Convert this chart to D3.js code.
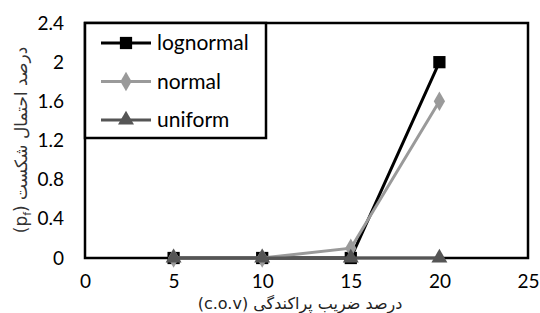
<!DOCTYPE html>
<html>
<head>
<meta charset="utf-8">
<script src="https://cdn.jsdelivr.net/npm/d3@7"></script>
<style>
  body { margin: 0; background: #fff; }
  svg text { font-family: Lato, "Open Sans", sans-serif; }
</style>
</head>
<body>
<div id="chart"></div>
<script>
// data
var cov = [5, 10, 15, 20]
var lognormal = [0, 0, 0, 2.0]
var normal = [0, 0, 0.1, 1.6]
var uniform = [0, 0, 0, 0]
var xTicks = [0, 5, 10, 15, 20, 25]
var yTicks = [0, 0.4, 0.8, 1.2, 1.6, 2, 2.4]
var seriesNames = ["lognormal", "normal", "uniform"]

var width = 540, height = 313
var margin = { top: 23, left: 85, right: 12, bottom: 55 }

var svg = d3.select("#chart")
    .append("svg")
    .attr("width", width)
    .attr("height", height)

var x = d3.scaleLinear().domain([0, 25]).range([margin.left, width - margin.right])
var y = d3.scaleLinear().domain([0, 2.4]).range([height - margin.bottom, margin.top])

// axes, labels only
var xAxis = svg.append("g")
    .attr("transform", "translate(0," + (height - margin.bottom) + ")")
    .call(d3.axisBottom(x).tickValues(xTicks).tickSize(0).tickPadding(17).tickFormat(d3.format("d")))
xAxis.select(".domain").remove()
xAxis.selectAll("text").attr("font-size", 19).attr("fill", "#000")
    .style("font-family", "Lato, sans-serif")

var yAxis = svg.append("g")
    .attr("transform", "translate(" + margin.left + ",0)")
    .call(d3.axisLeft(y).tickValues(yTicks).tickSize(0).tickPadding(21).tickFormat(function (d) { return String(d) }))
yAxis.select(".domain").remove()
yAxis.selectAll("text").attr("font-size", 19).attr("fill", "#000")
    .style("font-family", "Lato, sans-serif")

// plot border
svg.append("rect")
    .attr("x", x(0)).attr("y", y(2.4))
    .attr("width", x(25) - x(0)).attr("height", y(0) - y(2.4))
    .attr("fill", "none").attr("stroke", "#000").attr("stroke-width", 2.5)

var series = [
    { name: seriesNames[0], values: lognormal, color: "#000", symbol: d3.symbolSquare, size: 150 },
    { name: seriesNames[1], values: normal, color: "#9a9a9a", symbol: d3.symbolDiamond, size: 110 },
    { name: seriesNames[2], values: uniform, color: "#555", symbol: d3.symbolTriangle, size: 110 }
]

var line = d3.line()
    .x(function (d) { return x(d[0]) })
    .y(function (d) { return y(d[1]) })

series.forEach(function (s) {
    var pts = cov.map(function (c, i) { return [c, s.values[i]] })
    svg.append("path")
        .attr("d", line(pts))
        .attr("fill", "none")
        .attr("stroke", s.color)
        .attr("stroke-width", 3)
    svg.selectAll(".m-" + s.name)
        .data(pts)
        .enter().append("path")
        .attr("transform", function (d) { return "translate(" + x(d[0]) + "," + y(d[1]) + ")" })
        .attr("d", d3.symbol().type(s.symbol).size(s.size))
        .attr("fill", s.color)
})

// legend
var legend = svg.append("g")
legend.append("rect")
    .attr("x", x(0)).attr("y", y(2.4))
    .attr("width", 181).attr("height", 115)
    .attr("fill", "#fff").attr("stroke", "#000").attr("stroke-width", 2.5)

series.forEach(function (s, i) {
    var ly = 43 + i * 38.5
    legend.append("line")
        .attr("x1", 101).attr("x2", 151).attr("y1", ly).attr("y2", ly)
        .attr("stroke", s.color).attr("stroke-width", 3)
    legend.append("path")
        .attr("transform", "translate(126," + ly + ")")
        .attr("d", d3.symbol().type(s.symbol).size(s.size))
        .attr("fill", s.color)
    legend.append("text")
        .attr("x", 157).attr("y", ly)
        .attr("dy", "0.35em")
        .attr("font-size", 21)
        .attr("fill", "#000")
        .text(s.name)
})

// axis titles
svg.append("text")
    .attr("x", 300).attr("y", 309)
    .attr("text-anchor", "middle")
    .attr("direction", "rtl")
    .attr("font-size", 16)
    .attr("fill", "#222")
    .style("font-family", "'DejaVu Sans', 'Noto Sans', sans-serif")
    .text("درصد ضریب پراکندگی (c.o.v)")

var yt = svg.append("text")
    .attr("transform", "translate(27,140) rotate(-90)")
    .attr("text-anchor", "middle")
    .attr("direction", "rtl")
    .attr("font-size", 17)
    .attr("fill", "#333")
    .style("font-family", "'DejaVu Sans', 'Noto Sans', sans-serif")
yt.append("tspan").text("درصد احتمال شکست (p")
yt.append("tspan").attr("font-size", 11).attr("dy", 4).text("f")
yt.append("tspan").attr("dy", -4).text(")")
</script>
</body>
</html>
